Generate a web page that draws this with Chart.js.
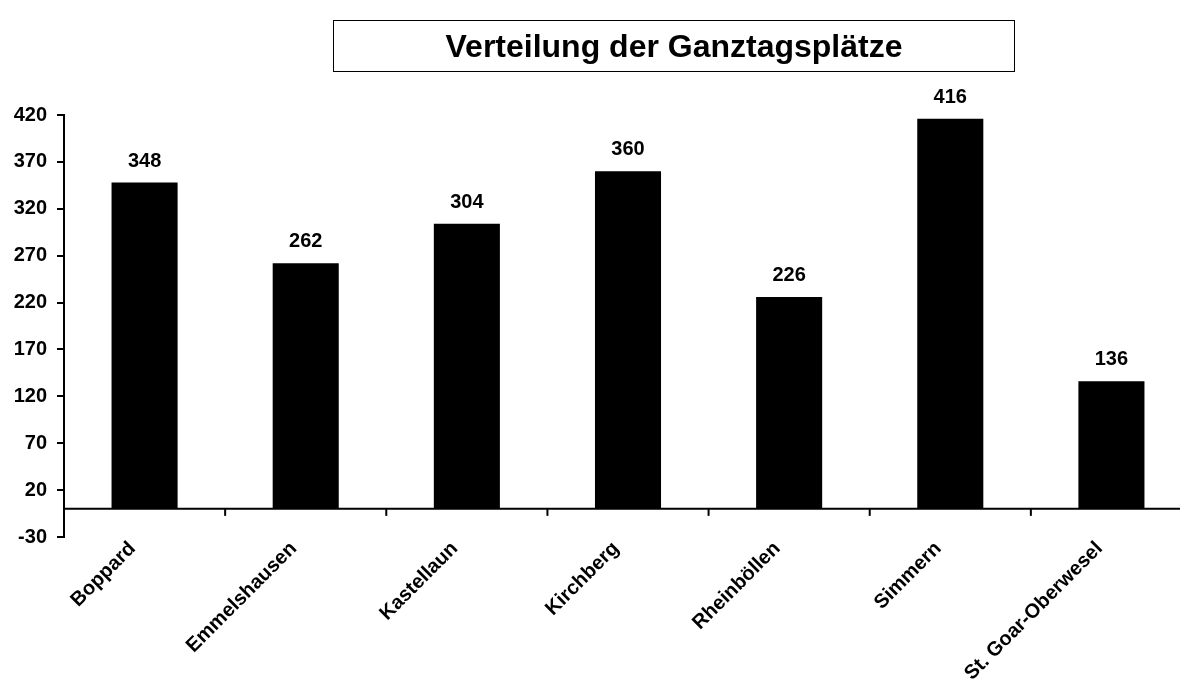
<!DOCTYPE html>
<html>
<head>
<meta charset="utf-8">
<script src="https://cdn.jsdelivr.net/npm/chart.js@4/dist/chart.umd.min.js"></script>
<style>
    html, body { margin: 0; padding: 0; background: #fff; overflow: hidden; }
    #wrap { position: relative; width: 1180px; height: 685px; overflow: hidden; }
    #titel {
        position: absolute; left: 333px; top: 20px; width: 682px; height: 52px;
        border: 1.5px solid #000; box-sizing: border-box;
        font: bold 32px "Liberation Sans", Arial, sans-serif; color: #000;
        text-align: center; line-height: 50px;
    }
</style>
</head>
<body>
<div id="wrap">
    <canvas id="chartPlaetze" width="1192" height="685"></canvas>
    <div id="titel">Verteilung der Ganztagsplätze</div>
</div>
<script>
// Daten
const orte = ['Boppard', 'Emmelshausen', 'Kastellaun', 'Kirchberg', 'Rheinböllen', 'Simmern', 'St. Goar-Oberwesel'];
const plaetze = [348, 262, 304, 360, 226, 416, 136];
const yTicks = [-30, 20, 70, 120, 170, 220, 270, 320, 370, 420];

const schrift = '"Liberation Sans", Arial, sans-serif';

// Werte über den Balken + Achsenlinie bei 0
const balkenWerte = {
    id: 'balkenWerte',
    afterDatasetsDraw(chart) {
        const { ctx, chartArea, scales } = chart;
        const y0 = scales.y.getPixelForValue(0);

        ctx.save();
        ctx.strokeStyle = '#000';
        ctx.lineWidth = 2;
        ctx.beginPath();
        ctx.moveTo(chartArea.left, y0);
        ctx.lineTo(chartArea.right, y0);
        ctx.stroke();

        // kleine Striche zwischen den Kategorien
        for (let i = 0; i < orte.length; i++) {
            const x = (scales.x.getPixelForValue(i) + scales.x.getPixelForValue(i + 1)) / 2;
            ctx.beginPath();
            ctx.moveTo(x, y0);
            ctx.lineTo(x, y0 + 7);
            ctx.stroke();
        }

        ctx.fillStyle = '#000';
        ctx.font = 'bold 20px ' + schrift;
        ctx.textAlign = 'center';
        ctx.textBaseline = 'alphabetic';
        chart.getDatasetMeta(0).data.forEach((bar, i) => {
            ctx.fillText(plaetze[i], bar.x, bar.y - 16);
        });
        ctx.restore();
    }
};

new Chart(document.getElementById('chartPlaetze'), {
    type: 'bar',
    data: {
        labels: orte,
        datasets: [{
            label: 'Ganztagsplätze',
            data: plaetze,
            backgroundColor: '#000',
            borderWidth: 0,
            barPercentage: 0.41,
            categoryPercentage: 1
        }]
    },
    options: {
        responsive: false,
        animation: false,
        layout: { padding: { top: 115, left: 0, right: 0, bottom: 0 } },
        scales: {
            x: {
                grid: { display: false },
                border: { display: false },
                ticks: {
                    color: '#000',
                    font: { family: schrift, size: 20, weight: 'bold' },
                    minRotation: 45,
                    maxRotation: 45,
                    autoSkip: false,
                    padding: -8,
                    labelOffset: -12
                },
                afterFit(scale) { scale.height = 148; }
            },
            y: {
                min: -30,
                max: 420,
                afterBuildTicks(scale) {
                    scale.ticks = yTicks.map(v => ({ value: v }));
                },
                grid: {
                    display: true,
                    drawOnChartArea: false,
                    drawTicks: true,
                    tickLength: 7,
                    color: '#000',
                    lineWidth: 2
                },
                border: { display: true, color: '#000', width: 2 },
                ticks: {
                    color: '#000',
                    font: { family: schrift, size: 20, weight: 'bold' },
                    padding: 10
                },
                afterFit(scale) { scale.width = 64; }
            }
        },
        plugins: {
            legend: { display: false },
            tooltip: { enabled: false }
        }
    },
    plugins: [balkenWerte]
});
</script>
</body>
</html>
